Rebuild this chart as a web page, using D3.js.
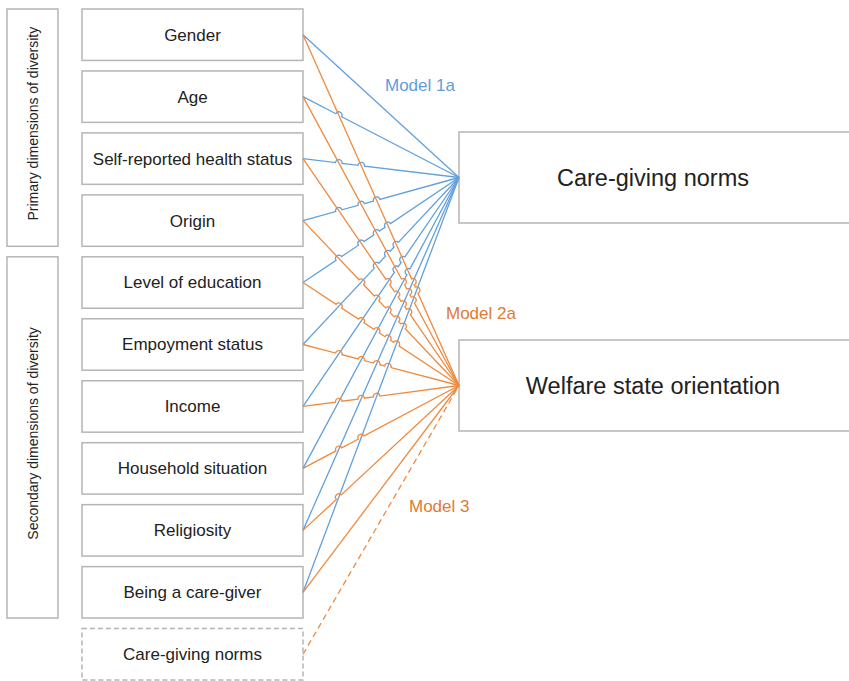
<!DOCTYPE html>
<html>
<head>
<meta charset="utf-8">
<script src="https://cdn.jsdelivr.net/npm/d3@7"></script>
<style>
  body { margin: 0; background: #fff; }
  svg { display: block; font-family: "Liberation Sans", Arial, sans-serif; }
</style>
</head>
<body>
<script>
// rows on the left (last one is the dashed mediator box)
var rows = ["Gender", "Age", "Self-reported health status", "Origin",
            "Level of education", "Empoyment status", "Income",
            "Household situation", "Religiosity", "Being a care-giver",
            "Care-giving norms (mediator)"];
var rowLabels = ["Gender", "Age", "Self-reported health status", "Origin",
            "Level of education", "Empoyment status", "Income",
            "Household situation", "Religiosity", "Being a care-giver",
            "Care-giving norms"];
var predictors = rows.slice(0, 10);

// grouping of the predictors
var groupNames = ["Primary dimensions of diversity", "Secondary dimensions of diversity"];
var groupFirst = ["Gender", "Level of education"];
var groupLast  = ["Origin", "Being a care-giver"];

// outcome boxes
var outcomes = ["Care-giving norms", "Welfare state orientation"];

// models: paths from predictors to an outcome
var modelNames   = ["Model 1a", "Model 2a", "Model 3"];
var modelFrom    = [predictors, predictors, ["Care-giving norms (mediator)"]];
var modelTo      = ["Care-giving norms", "Welfare state orientation", "Welfare state orientation"];
var modelDashed  = [false, false, true];
var modelColor   = ["#62a0dc", "#f08a3e", "#f08a3e"];
var modelText    = ["#5f9ddb", "#e07a34", "#e07a34"];
var modelLabelXY = [[385, 91], [446, 319], [409, 512]];

var W = 849, H = 681;
var svg = d3.select("body").append("svg")
    .attr("width", W)
    .attr("height", H);

var y = d3.scaleBand().domain(rows).range([9, 680]).paddingInner(0.17);
var yOut = d3.scaleBand().domain(outcomes).range([132, 431]).paddingInner(0.5625);

var boxL = 82, boxR = 303, outL = 459, outR = 852;
var grpL = 7, grpR = 58;

// group boxes
groupNames.forEach(function(g, i) {
  var y0 = y(groupFirst[i]), y1 = y(groupLast[i]) + y.bandwidth();
  svg.append("rect")
      .attr("x", grpL).attr("y", y0)
      .attr("width", grpR - grpL).attr("height", y1 - y0)
      .attr("fill", "#fff").attr("stroke", "#b5b5b5").attr("stroke-width", 1.5);
  var cx = (grpL + grpR) / 2 + 5, cy = (y0 + y1) / 2 - 4;
  svg.append("text")
      .attr("transform", "translate(" + cx + "," + cy + ") rotate(-90)")
      .attr("text-anchor", "middle")
      .attr("font-size", 14)
      .attr("fill", "#222")
      .text(g);
});

// predictor boxes
rows.forEach(function(r, i) {
  svg.append("rect")
      .attr("x", boxL).attr("y", y(r))
      .attr("width", boxR - boxL).attr("height", y.bandwidth())
      .attr("fill", "#fff").attr("stroke", "#b5b5b5").attr("stroke-width", 1.5)
      .attr("stroke-dasharray", i === rows.length - 1 ? "5,3" : null);
  svg.append("text")
      .attr("x", (boxL + boxR) / 2)
      .attr("y", y(r) + y.bandwidth() / 2)
      .attr("dy", "0.35em")
      .attr("text-anchor", "middle")
      .attr("font-size", 17)
      .attr("fill", "#222")
      .text(rowLabels[i]);
});

// outcome boxes
outcomes.forEach(function(o) {
  svg.append("rect")
      .attr("x", outL).attr("y", yOut(o))
      .attr("width", outR - outL).attr("height", yOut.bandwidth())
      .attr("fill", "#fff").attr("stroke", "#b5b5b5").attr("stroke-width", 1.5);
  svg.append("text")
      .attr("x", 653)
      .attr("y", yOut(o) + yOut.bandwidth() / 2)
      .attr("dy", "0.35em")
      .attr("text-anchor", "middle")
      .attr("font-size", 23.5)
      .attr("fill", "#222")
      .text(o);
});

// build segments
var segs = [];
modelNames.forEach(function(m, k) {
  modelFrom[k].forEach(function(f) {
    segs.push({
      model: k,
      x1: boxR, y1: y(f) + y.bandwidth() / 2,
      x2: outL, y2: yOut(modelTo[k]) + yOut.bandwidth() / 2
    });
  });
});

// crossings: the flatter line gets a small hop
function cross(a, b) {
  var dxa = a.x2 - a.x1, dya = a.y2 - a.y1, dxb = b.x2 - b.x1, dyb = b.y2 - b.y1;
  var den = dxa * dyb - dya * dxb;
  if (Math.abs(den) < 1e-9) return null;
  var t = ((b.x1 - a.x1) * dyb - (b.y1 - a.y1) * dxb) / den;
  var u = ((b.x1 - a.x1) * dya - (b.y1 - a.y1) * dxa) / den;
  if (t <= 0.02 || t >= 0.98 || u <= 0.02 || u >= 0.98) return null;
  return t;
}
var r = 3.3;
segs.forEach(function(s) {
  var len = Math.hypot(s.x2 - s.x1, s.y2 - s.y1);
  var slope = Math.abs((s.y2 - s.y1) / (s.x2 - s.x1));
  var ts = [];
  segs.forEach(function(o) {
    if (o.model === s.model || modelColor[o.model] === modelColor[s.model]) return;
    var t = cross(s, o);
    if (t === null) return;
    var so = Math.abs((o.y2 - o.y1) / (o.x2 - o.x1));
    if (slope < so) ts.push(t);
  });
  ts.sort(d3.ascending);
  var ux = (s.x2 - s.x1) / len, uy = (s.y2 - s.y1) / len;
  var p = d3.path();
  p.moveTo(s.x1, s.y1);
  ts.forEach(function(t) {
    var cx = s.x1 + t * (s.x2 - s.x1), cy = s.y1 + t * (s.y2 - s.y1);
    p.lineTo(cx - ux * r, cy - uy * r);
    // upward hop
    var a0 = Math.atan2(-uy, -ux);
    p.arc(cx, cy, r, a0, a0 + Math.PI, false);
  });
  p.lineTo(s.x2, s.y2);
  s.d = p.toString();
});

svg.append("g").selectAll("path")
  .data(segs)
  .join("path")
    .attr("d", function(d) { return d.d; })
    .attr("fill", "none")
    .attr("stroke", function(d) { return modelColor[d.model]; })
    .attr("stroke-width", 1.3)
    .attr("stroke-dasharray", function(d) { return modelDashed[d.model] ? "6,4" : null; });

// model labels
modelNames.forEach(function(m, k) {
  svg.append("text")
      .attr("x", modelLabelXY[k][0])
      .attr("y", modelLabelXY[k][1])
      .attr("font-size", 17)
      .attr("fill", modelText[k])
      .text(m);
});
</script>
</body>
</html>
